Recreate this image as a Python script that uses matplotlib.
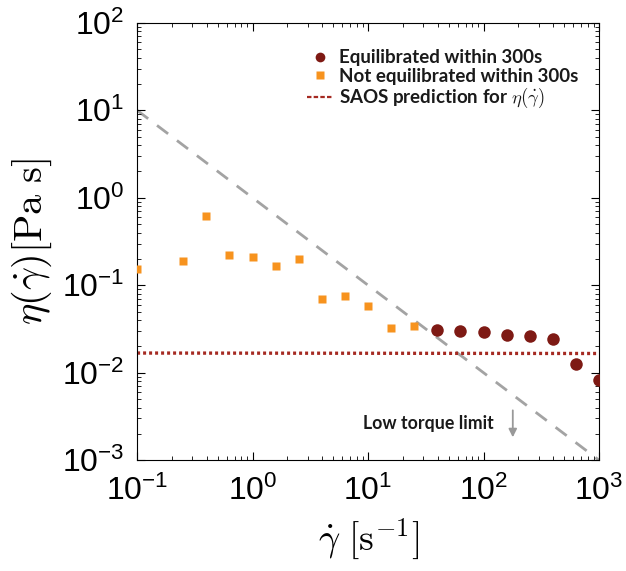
import matplotlib
matplotlib.use('Agg')
import matplotlib.pyplot as plt
from matplotlib.lines import Line2D
import numpy as np

plt.rcParams['mathtext.fontset'] = 'cm'
plt.rcParams['font.family'] = ['Liberation Sans', 'DejaVu Sans']

# not equilibrated within 300 s
gd_neq = [0.1, 0.251, 0.398, 0.631, 1.0, 1.585, 2.512, 3.98, 6.31, 10.0, 15.85, 25.1]
eta_neq = [0.153, 0.189, 0.624, 0.222, 0.212, 0.164, 0.200, 0.069, 0.075, 0.058, 0.0324, 0.0344]

# equilibrated within 300 s
gd_eq = [39.8, 63.1, 100.0, 158.5, 251.2, 398.1, 631.0, 1000.0]
eta_eq = [0.0307, 0.0299, 0.0289, 0.0269, 0.0262, 0.0245, 0.0126, 0.0082]

# SAOS prediction (flat) and low torque limit
gd_saos = [0.1, 1000.0]
eta_saos = [0.0168, 0.0166]
gd_torque = [0.1, 1000.0]
eta_torque = [10.0, 0.001]

RED = '#7e1a14'
ORANGE = '#f7931e'
DOT = '#a52a22'

fig = plt.figure(figsize=(6.26, 5.71), dpi=100)
ax = fig.add_axes([0.219, 0.194, 0.738, 0.766])

ax.plot(gd_torque, eta_torque, color='#a3a3a3', lw=2.0, ls=(0, (5, 4)), zorder=1)
ax.plot(gd_saos, eta_saos, color=DOT, lw=2.4, ls=(0, (0.9, 0.9)), zorder=2)
ax.plot(gd_eq, eta_eq, 'o', color=RED, ms=9, mec='none', zorder=3)
ax.plot(gd_neq, eta_neq, 's', color=ORANGE, ms=6, mec='none', zorder=3)

ax.annotate('', xy=(179, 0.0017), xytext=(179, 0.0040),
            arrowprops=dict(arrowstyle='-|>', color='#999999', lw=1.3, mutation_scale=12))
ax.text(33, 0.00265, 'Low torque limit', ha='center', va='center',
        fontsize=12.8, fontweight='bold', family=['Lato', 'DejaVu Sans'], color='#1a1a1a')

ax.set_xscale('log')
ax.set_yscale('log')
ax.set_xlim(0.1, 1000)
ax.set_ylim(1e-3, 1e2)
ax.tick_params(which='both', direction='in', top=True, right=True, labelsize=23)
ax.tick_params(which='major', length=6, width=0.8)
ax.tick_params(which='minor', length=3, width=0.6)
ax.tick_params(axis='x', pad=11)
ax.tick_params(axis='y', pad=9)

ax.set_xlabel(r'$\dot{\gamma}\ [\mathrm{s}^{-1}]$', fontsize=27, labelpad=7)
ax.set_ylabel(r'$\eta(\dot{\gamma})[\mathrm{Pa\ s}]$', fontsize=29, labelpad=6)

handles = [
    Line2D([], [], ls='none', marker='o', color=RED, ms=7, mec='none'),
    Line2D([], [], ls='none', marker='s', color=ORANGE, ms=5.5, mec='none'),
    Line2D([], [], color=DOT, lw=1.6, ls=(0, (2, 1))),
]
labels = ['Equilibrated within 300s', 'Not equilibrated within 300s',
          r'SAOS prediction for $\eta(\dot{\gamma})$']
leg = ax.legend(handles, labels, loc='upper left', bbox_to_anchor=(0.368, 0.94),
                frameon=False, borderpad=0, borderaxespad=0,
                prop={'family': ['Lato', 'DejaVu Sans'], 'weight': 'bold', 'size': 13.5},
                handlelength=1.4, handletextpad=0.3, labelspacing=0.08)
for t in leg.get_texts():
    t.set_color('#1a1a1a')

plt.savefig('out.png', dpi=100)
